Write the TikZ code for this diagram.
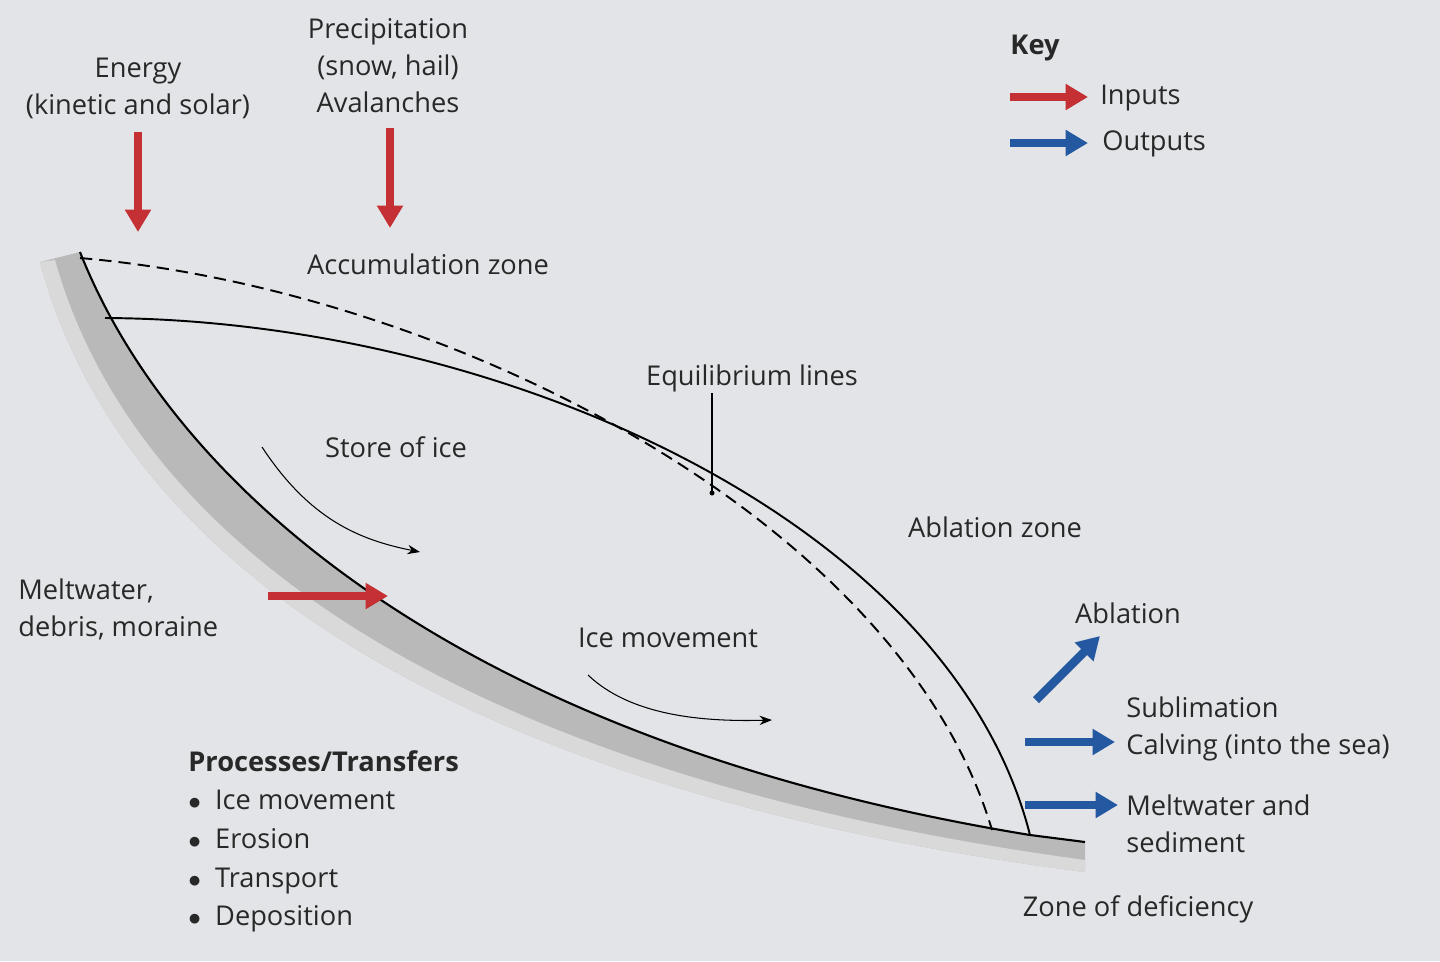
\documentclass[tikz,border=0pt]{standalone}
\usepackage{fontspec}
\setmainfont{Open Sans}
\usetikzlibrary{arrows.meta}
\definecolor{bg}{RGB}{226,228,231}
\definecolor{inred}{RGB}{196,48,52}
\definecolor{outblue}{RGB}{36,88,160}
\definecolor{txt}{RGB}{40,40,40}
\tikzset{
  lbl/.style={text=txt,font=\fontsize{15.5}{21}\selectfont,align=center,inner sep=0pt},
  lbll/.style={lbl,align=left},
  inarrow/.style={draw=inred,line width=0.17cm,-{Triangle[length=0.45cm,width=0.5cm]}},
  outarrow/.style={draw=outblue,line width=0.17cm,-{Triangle[length=0.45cm,width=0.5cm]}},
  thinarrow/.style={draw=black,line width=0.6pt,-{Stealth[length=0.25cm]}}
}
\begin{document}
\begin{tikzpicture}[x=0.02cm,y=-0.02cm]
\fill[bg] (0,0) rectangle (1440,961);
\useasboundingbox (0,0) rectangle (1440,961);
% bed band
\fill[gray!55] (40,262) .. controls (120,560) and (450,790) .. (1085,872) -- (1085,842) -- (1030,835)
  .. controls (450,740) and (170,480) .. (80,252) -- cycle;
\fill[gray!30] (40,262) .. controls (120,560) and (450,790) .. (1085,872) -- (1085,860)
  .. controls (460,775) and (135,545) .. (55,260) -- cycle;
\draw[black,line width=1.2pt] (80,252) .. controls (170,480) and (450,740) .. (1030,835) -- (1085,842);
% surface and dashed
\draw[black,line width=1.1pt] (105,318) .. controls (500,320) and (950,520) .. (1030,835);
\draw[black,line width=1.1pt,dashed,dash pattern=on 7pt off 4pt] (80,258) .. controls (450,290) and (900,520) .. (992,830);
% labels
\node[lbl] (energy) at (138,88) {Energy\\(kinetic and solar)};
\node[lbl] (precip) at (388,66) {Precipitation\\(snow, hail)\\Avalanches};
\node[lbl,font=\fontsize{15.5}{21}\selectfont\bfseries] (key) at (1035,48) {Key};
\node[lbll,anchor=west] (inp) at (1100,98) {Inputs};
\node[lbll,anchor=west] (outp) at (1102,144) {Outputs};
\node[lbl] (acc) at (428,264) {Accumulation zone};
\node[lbl] (eq) at (752,378) {Equilibrium lines};
\node[lbl] (store) at (396,447) {Store of ice};
\node[lbl] (abz) at (995,527) {Ablation zone};
\node[lbll,anchor=west] (melt) at (18,609) {Meltwater,\\debris, moraine};
\node[lbl] (icem) at (668,638) {Ice movement};
\node[lbl] (abl) at (1128,613) {Ablation};
\node[lbll,anchor=west] (sub) at (1126,729) {Sublimation\\Calving (into the sea)};
\node[lbll,anchor=west] (mws) at (1126,824) {Meltwater and\\sediment};
\node[lbl] (zod) at (1138,909) {Zone of deficiency};
\node[lbll,anchor=north west] (proc) at (188,750) {\textbf{Processes/Transfers}\\[1pt]
 $\bullet$\ \ Ice movement\\[1pt] $\bullet$\ \ Erosion\\[1pt] $\bullet$\ \ Transport\\[1pt] $\bullet$\ \ Deposition};
% equilibrium pointer
\coordinate (eqb) at (712,493);
\draw[black,line width=0.7pt] (712,393) -- (eqb);
\fill (eqb) circle (2.5);
% arrows
\coordinate (e1) at (138,132); \coordinate (e2) at (138,232);
\draw[inarrow] (e1) -- (e2);
\coordinate (p1) at (390,128); \coordinate (p2) at (390,228);
\draw[inarrow] (p1) -- (p2);
\coordinate (m1) at (268,596); \coordinate (m2) at (388,596);
\draw[inarrow] (m1) -- (m2);
\coordinate (k1) at (1010,97); \coordinate (k2) at (1088,97);
\draw[inarrow] (k1) -- (k2);
\coordinate (k3) at (1010,143); \coordinate (k4) at (1088,143);
\draw[outarrow] (k3) -- (k4);
\coordinate (a1) at (1036,700); \coordinate (a2) at (1100,636);
\draw[outarrow] (a1) -- (a2);
\coordinate (s1) at (1025,742); \coordinate (s2) at (1115,742);
\draw[outarrow] (s1) -- (s2);
\coordinate (w1) at (1025,805); \coordinate (w2) at (1118,805);
\draw[outarrow] (w1) -- (w2);
% thin curved arrows
\coordinate (c1) at (262,447); \coordinate (c2) at (420,552);
\draw[thinarrow] (c1) .. controls (310,520) and (360,540) .. (c2);
\coordinate (c3) at (588,675); \coordinate (c4) at (772,720);
\draw[thinarrow] (c3) .. controls (630,715) and (700,722) .. (c4);
\end{tikzpicture}
\end{document}
